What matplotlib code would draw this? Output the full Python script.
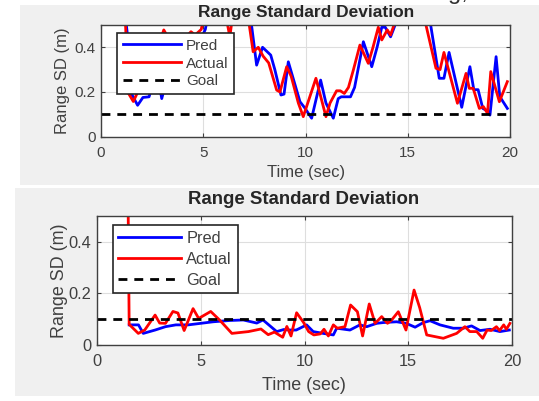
import matplotlib
matplotlib.use("Agg")
import matplotlib.pyplot as plt
from matplotlib.patches import Rectangle

plt.rcParams['font.family'] = ['Liberation Sans', 'DejaVu Sans']

# ---------------- data ----------------
goal = 0.1
xticks = [0, 5, 10, 15, 20]
yticks = [0, 0.2, 0.4]
ytick_labels = ['0', '0.2', '0.4']

# top panel
t_top_pred = [1.0, 1.3, 1.5, 1.79, 2.05, 2.35, 2.55, 2.8, 2.97, 3.2, 3.6, 4.0, 4.4, 4.8, 5.1,
              5.35, 6.0, 6.6, 7.0, 7.36, 7.61, 7.9, 8.3, 8.5, 8.8, 8.95, 9.16, 9.73, 9.95,
              10.3, 10.74, 11.0, 11.36, 11.6, 11.75, 12.2, 12.4, 12.83, 13.24, 13.5, 13.73,
              13.9, 14.16, 14.3, 14.5, 15.0, 15.6, 16.12, 16.54, 16.77, 17.02, 17.64, 18.04,
              18.23, 18.44, 18.67, 18.87, 19.02, 19.32, 19.5, 19.87]
sd_top_pred = [0.70, 0.45, 0.19, 0.14, 0.175, 0.178, 0.24, 0.26, 0.17, 0.25, 0.30, 0.33, 0.38, 0.42, 0.48,
               0.60, 0.70, 0.65, 0.60, 0.50, 0.32, 0.40, 0.365, 0.30, 0.186, 0.19, 0.335, 0.156, 0.13,
               0.082, 0.253, 0.15, 0.082, 0.17, 0.178, 0.178, 0.22, 0.425, 0.313, 0.40, 0.49,
               0.49, 0.447, 0.48, 0.53, 0.70, 0.70, 0.50, 0.261, 0.261, 0.377, 0.131, 0.313,
               0.21, 0.21, 0.126, 0.116, 0.096, 0.358, 0.179, 0.126]

t_top_act = [1.0, 1.2, 1.34, 1.58, 1.8, 2.1, 2.5, 2.8, 3.07, 3.3, 3.6, 3.9, 4.2, 4.4, 4.6, 4.9,
             5.2, 5.8, 6.15, 6.3, 6.45, 6.8, 7.25, 7.44, 7.69, 7.93, 8.2, 8.59, 8.75, 9.08, 9.3,
             9.65, 9.89, 10.51, 11.0, 11.2, 11.52, 11.7, 11.9, 12.1, 12.34, 12.66, 13.07, 13.3,
             13.56, 13.73, 14.0, 14.16, 14.4, 15.0, 15.5, 15.89, 16.38, 16.58, 16.77, 17.43,
             17.85, 18.01, 18.2, 18.5, 18.7, 18.9, 19.06, 19.48, 19.87]
sd_top_act = [0.75, 0.50, 0.194, 0.157, 0.20, 0.25, 0.32, 0.40, 0.478, 0.44, 0.40, 0.43, 0.45, 0.47, 0.455, 0.48,
              0.60, 0.65, 0.52, 0.447, 0.55, 0.70, 0.50, 0.38, 0.40, 0.36, 0.33, 0.208, 0.20, 0.313, 0.27,
              0.15, 0.089, 0.261, 0.089, 0.15, 0.205, 0.205, 0.193, 0.22, 0.298, 0.41, 0.328, 0.40,
              0.49, 0.433, 0.478, 0.455, 0.52, 0.70, 0.65, 0.50, 0.306, 0.30, 0.377, 0.149,
              0.283, 0.216, 0.216, 0.126, 0.134, 0.104, 0.291, 0.156, 0.246]

# bottom panel
t_bot_pred = [1.55, 2.0, 2.23, 2.8, 3.3, 3.8, 4.4, 5.0, 5.6, 6.4, 7.05, 7.7, 8.0, 8.66, 9.0, 9.3,
              9.6, 9.78, 10.1, 10.42, 10.9, 11.39, 11.55, 12.19, 12.67, 13.0, 13.48, 13.8, 14.44,
              14.9, 15.33, 15.73, 16.05, 16.53, 17.17, 17.65, 18.05, 18.46, 18.94, 19.42, 19.87]
sd_bot_pred = [0.078, 0.078, 0.045, 0.058, 0.071, 0.078, 0.078, 0.084, 0.09, 0.095, 0.097, 0.085, 0.097,
               0.052, 0.06, 0.058, 0.058, 0.065, 0.078, 0.052, 0.045, 0.039, 0.065, 0.058, 0.078,
               0.071, 0.084, 0.087, 0.09, 0.084, 0.069, 0.087, 0.094, 0.078, 0.065, 0.065, 0.074,
               0.056, 0.061, 0.052, 0.058]

t_bot_act = [1.45, 1.55, 1.99, 2.3, 2.8, 3.02, 3.3, 3.66, 3.9, 4.2, 4.63, 4.9, 5.48, 5.93, 6.5, 7.3,
             7.9, 8.25, 8.55, 8.95, 9.15, 9.35, 9.62, 9.95, 10.2, 10.45, 10.76, 10.94, 11.15, 11.39,
             11.58, 11.95, 12.22, 12.55, 12.8, 13.12, 13.4, 13.72, 14.0, 14.2, 14.52, 14.89, 15.28,
             15.55, 15.89, 16.69, 17.33, 17.73, 17.97, 18.3, 18.59, 18.8, 19.0, 19.25, 19.4, 19.6,
             19.73, 19.9]
sd_bot_act = [1.0, 0.08, 0.045, 0.058, 0.116, 0.085, 0.084, 0.13, 0.124, 0.056, 0.141, 0.103, 0.13, 0.095,
              0.045, 0.052, 0.062, 0.04, 0.05, 0.03, 0.072, 0.035, 0.125, 0.088, 0.052, 0.039, 0.043,
              0.061, 0.035, 0.078, 0.065, 0.071, 0.155, 0.129, 0.035, 0.159, 0.084, 0.11, 0.084,
              0.097, 0.129, 0.058, 0.213, 0.145, 0.039, 0.026, 0.045, 0.071, 0.052, 0.052, 0.026,
              0.058, 0.056, 0.071, 0.056, 0.078, 0.061, 0.084]

title_text = 'Range Standard Deviation'
xlabel_text = 'Time (sec)'
ylabel_text = 'Range SD (m)'
legend_labels = ['Pred', 'Actual', 'Goal']

# ---------------- figure ----------------
W, H = 539, 401
fig = plt.figure(figsize=(W / 100, H / 100), dpi=100, facecolor='white')

def fx(px):
    return px / W

def fy(py):
    return 1 - py / H

GRAY = '#f0f0f0'
TXT = '#404040'
# panel backgrounds (screenshot of two MATLAB figures)
fig.patches.append(Rectangle((fx(20), fy(185)), fx(539) - fx(20), fy(5) - fy(185),
                             transform=fig.transFigure, facecolor=GRAY, edgecolor='none', zorder=-10))
fig.patches.append(Rectangle((fx(15), fy(396)), fx(539) - fx(15), fy(188) - fy(396),
                             transform=fig.transFigure, facecolor=GRAY, edgecolor='none', zorder=-10))

# fragment of a heading cropped at the top edge of the screenshot
fig.text(fx(458), fy(-1), 'g,', fontsize=17, color='#333333', ha='center', va='baseline')

panels = [
    dict(box=(101, 510, 25, 136.5), tp=t_top_pred, sp=sd_top_pred, ta=t_top_act, sa=sd_top_act,
         title=(306, 12), xl=(306, 173), yl=(62, 81), s=1.0, leg=(0.04, 0.925), ls=0.25),
    dict(box=(97, 512, 216, 345), tp=t_bot_pred, sp=sd_bot_pred, ta=t_bot_act, sa=sd_bot_act,
         title=(304, 200), xl=(304, 386), yl=(59, 281), s=1.07, leg=(0.038, 0.93), ls=0.36),
]

for p in panels:
    l, r, t, b = p['box']
    s = p['s']
    ax = fig.add_axes([fx(l), fy(b), fx(r) - fx(l), fy(t) - fy(b)])
    ax.set_zorder(1)
    ax.set_facecolor('white')
    lp, = ax.plot(p['tp'], p['sp'], color='#0000ff', lw=2.0, label=legend_labels[0])
    la, = ax.plot(p['ta'], p['sa'], color='#ff0000', lw=2.0, label=legend_labels[1])
    lg, = ax.plot([0, 20], [goal, goal], color='black', lw=2.0, label=legend_labels[2])
    lg.set_dashes([3.2, 2.5])
    ax.set_xlim(0, 20)
    ax.set_ylim(0, 0.5)
    ax.set_xticks(xticks)
    ax.set_yticks(yticks)
    ax.set_yticklabels(ytick_labels)
    ax.grid(True, color='#dedede', lw=0.8)
    ax.set_axisbelow(True)
    ax.tick_params(direction='in', top=True, right=True, length=3, width=0.8,
                   colors='#404040', labelsize=11 * s, labelcolor=TXT, pad=4)
    ax.tick_params(axis='x', pad=6.5)
    for sp in ax.spines.values():
        sp.set_color('#404040')
        sp.set_linewidth(1.0)
    leg = ax.legend(handles=[lp, la, lg], loc='upper left', bbox_to_anchor=p['leg'],
                    borderaxespad=0, fancybox=False, framealpha=1, edgecolor='#262626',
                    fontsize=11 * s, handlelength=3.8, handletextpad=0.35, labelspacing=p['ls'],
                    borderpad=0.35)
    leg.get_frame().set_linewidth(1.2)
    for tx in leg.get_texts():
        tx.set_color(TXT)
    fig.text(fx(p['title'][0]), fy(p['title'][1]), title_text, fontsize=12.5 * s,
             fontweight='bold', color='#262626', ha='center', va='center')
    fig.text(fx(p['xl'][0]), fy(p['xl'][1]), xlabel_text, fontsize=12 * s, color=TXT,
             ha='center', va='center')
    fig.text(fx(p['yl'][0]), fy(p['yl'][1]), ylabel_text, fontsize=12 * s, color=TXT,
             ha='center', va='center', rotation=90)

fig.savefig('out.png', dpi=100, facecolor='white')
